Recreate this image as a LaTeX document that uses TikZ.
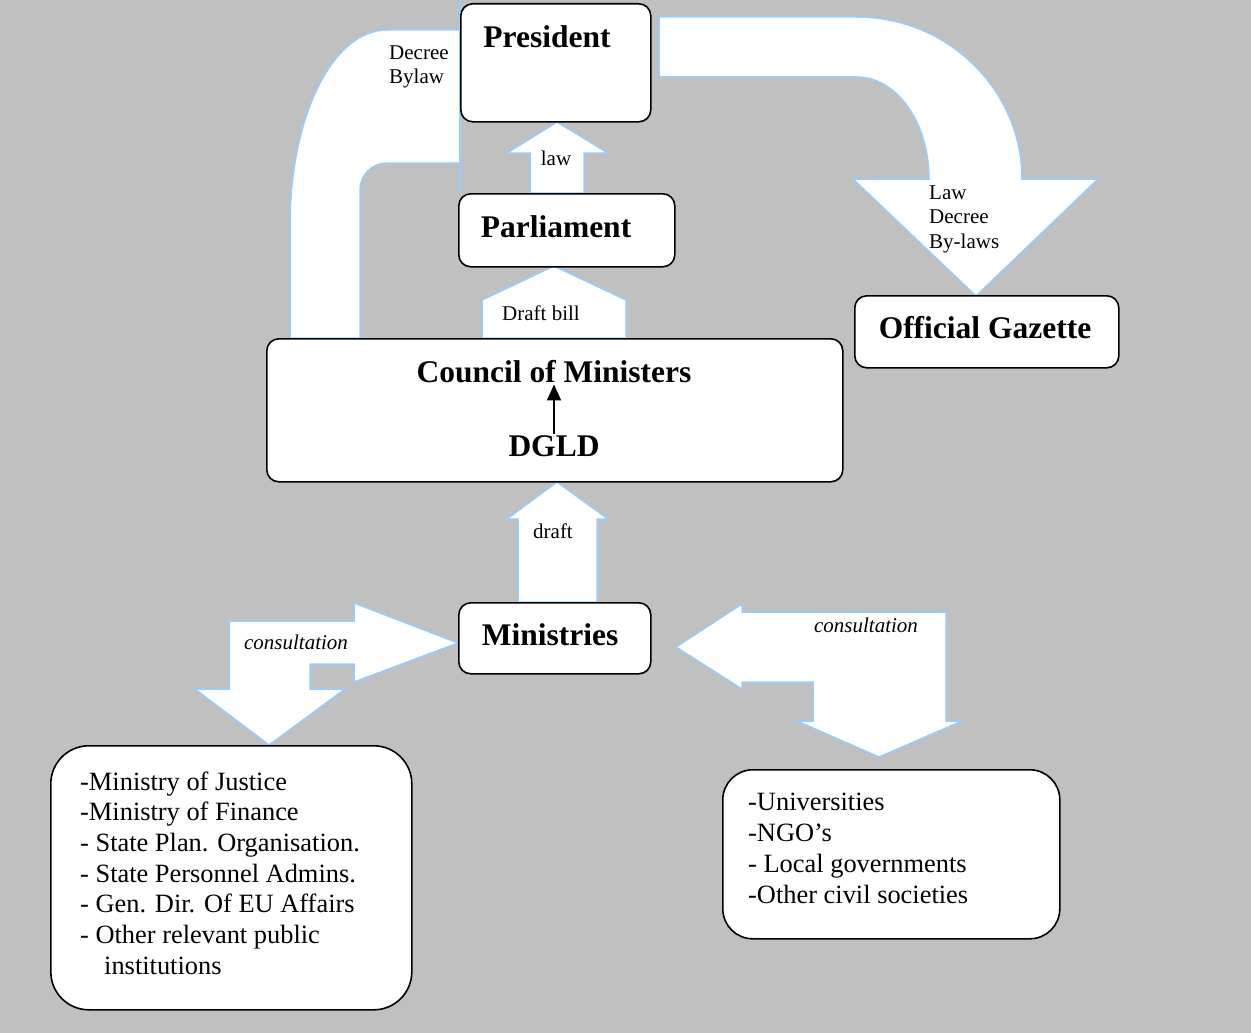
\documentclass[tikz,border=0pt]{standalone}
\usepackage{fontspec}
\setmainfont{Liberation Serif}
\usetikzlibrary{arrows.meta}
\definecolor{bggray}{RGB}{192,192,192}
\definecolor{arrowblue}{RGB}{153,204,255}
\begin{document}
\begin{tikzpicture}[x=1pt,y=-1pt,
  blockarrow/.style={draw=arrowblue, fill=white, line width=1.5pt, line join=miter},
  box/.style={draw=black, fill=white, line width=1.6pt, rounded corners=12pt, inner sep=0pt, anchor=north west},
  title/.style={font=\bfseries\fontsize{31.5}{36}\selectfont, inner sep=1pt},
  lbl/.style={font=\fontsize{21}{24.5}\selectfont, inner sep=0pt, align=left},
  ilbl/.style={font=\itshape\fontsize{21}{24.5}\selectfont, inner sep=0pt},
  listtext/.style={font=\fontsize{26.4}{30.7}\selectfont, align=left, inner sep=0pt, anchor=west},
  dgldarrow/.style={line width=1.8pt, -{Triangle[width=14pt,length=16pt]}},
]
\useasboundingbox (0,0) rectangle (1251,1033);
\fill[bggray] (0,0) rectangle (1251,1033);

% ---- block arrows ----
% bent arrow Council -> President
\draw[blockarrow] (290,338) -- (290,225) .. controls (290,118) and (332,30) .. (387,30)
  -- (460,30) -- (460,163) -- (387,163) .. controls (372,163) and (360,175) .. (360,190)
  -- (360,338) -- cycle;
\draw[arrowblue, line width=1.5pt] (460,0) -- (460,192);
% bent arrow President -> Official Gazette
\draw[blockarrow] (659,17) -- (857,17) .. controls (948,17) and (1022,90) .. (1022,179)
  -- (1098,179) -- (976,296) -- (853,179) -- (929,179)
  .. controls (929,123) and (897,77) .. (857,77) -- (659,77) -- cycle;
% law arrow
\draw[blockarrow] (530,193) -- (530,153) -- (507,153) -- (557,122) -- (608,153) -- (584,153) -- (584,193) -- cycle;
% draft bill pentagon
\draw[blockarrow] (482,338) -- (482,300) -- (554,266) -- (626,300) -- (626,338) -- cycle;
% draft arrow
\draw[blockarrow] (518,602) -- (518,519) -- (507,519) -- (557,482) -- (608,519) -- (597,519) -- (597,602) -- cycle;
% left consultation arrow
\draw[blockarrow] (229,621) -- (354,621) -- (354,603) -- (458,643) -- (354,682) -- (354,664)
  -- (310,664) -- (310,689) -- (345,689) -- (269,745) -- (195,689) -- (229,689) -- cycle;
% right consultation arrow
\draw[blockarrow] (676,647) -- (742,604) -- (742,612) -- (946,612) -- (946,721) -- (962,721)
  -- (879,757) -- (797,721) -- (813,721) -- (813,682) -- (742,682) -- (742,689) -- cycle;

% ---- boxes ----
\node[box, minimum width=190pt, minimum height=118pt] (presbox) at (460,3) {};
\node[box, minimum width=216pt, minimum height=73pt] (parlbox) at (458,193) {};
\node[box, minimum width=576pt, minimum height=143pt] (councilbox) at (266,338) {};
\node[box, minimum width=264pt, minimum height=72pt] (gazbox) at (854,295) {};
\node[box, minimum width=192pt, minimum height=71pt] (minbox) at (458,602) {};
\node[box, rounded corners=38pt, minimum width=361pt, minimum height=264pt] (leftbox) at (50,745) {};
\node[box, rounded corners=30pt, minimum width=337pt, minimum height=169pt] (rightbox) at (722,769) {};

% ---- texts ----
\node[title] (pres) at (547,37) {President};
\node[title] (parl) at (556,227) {Parliament};
\node[title] (com) at (554,372) {Council of Ministers};
\node[title] (dgld) at (554,446) {DGLD};
\node[title] (gaz) at (985,328) {Official Gazette};
\node[title] (mins) at (550,635) {Ministries};
\draw[dgldarrow] (dgld.north) -- (com.south);

\node[lbl, anchor=west] (decree) at (389,67) {Decree\\Bylaw};
\node[lbl] (lawlbl) at (556,158) {law};
\node[lbl] (draftbill) at (541,313) {Draft bill};
\node[lbl] (draftlbl) at (553,531) {draft};
\node[lbl, anchor=west] (lawdecree) at (929,219) {Law\\Decree\\By-laws};
\node[ilbl] (consl) at (296,642) {consultation};
\node[ilbl] (consr) at (866,625) {consultation};

\node[listtext] (leftlist) at (80,873) {-Ministry of Justice\\-Ministry of Finance\\- State Plan. Organisation.\\- State Personnel Admins.\\- Gen. Dir. Of EU Affairs\\- Other relevant public\\\hspace*{24pt}institutions};
\node[listtext, font=\fontsize{26.4}{31}\selectfont] (rightlist) at (748,848) {-Universities\\-NGO’s\\- Local governments\\-Other civil societies};
\end{tikzpicture}
\end{document}
